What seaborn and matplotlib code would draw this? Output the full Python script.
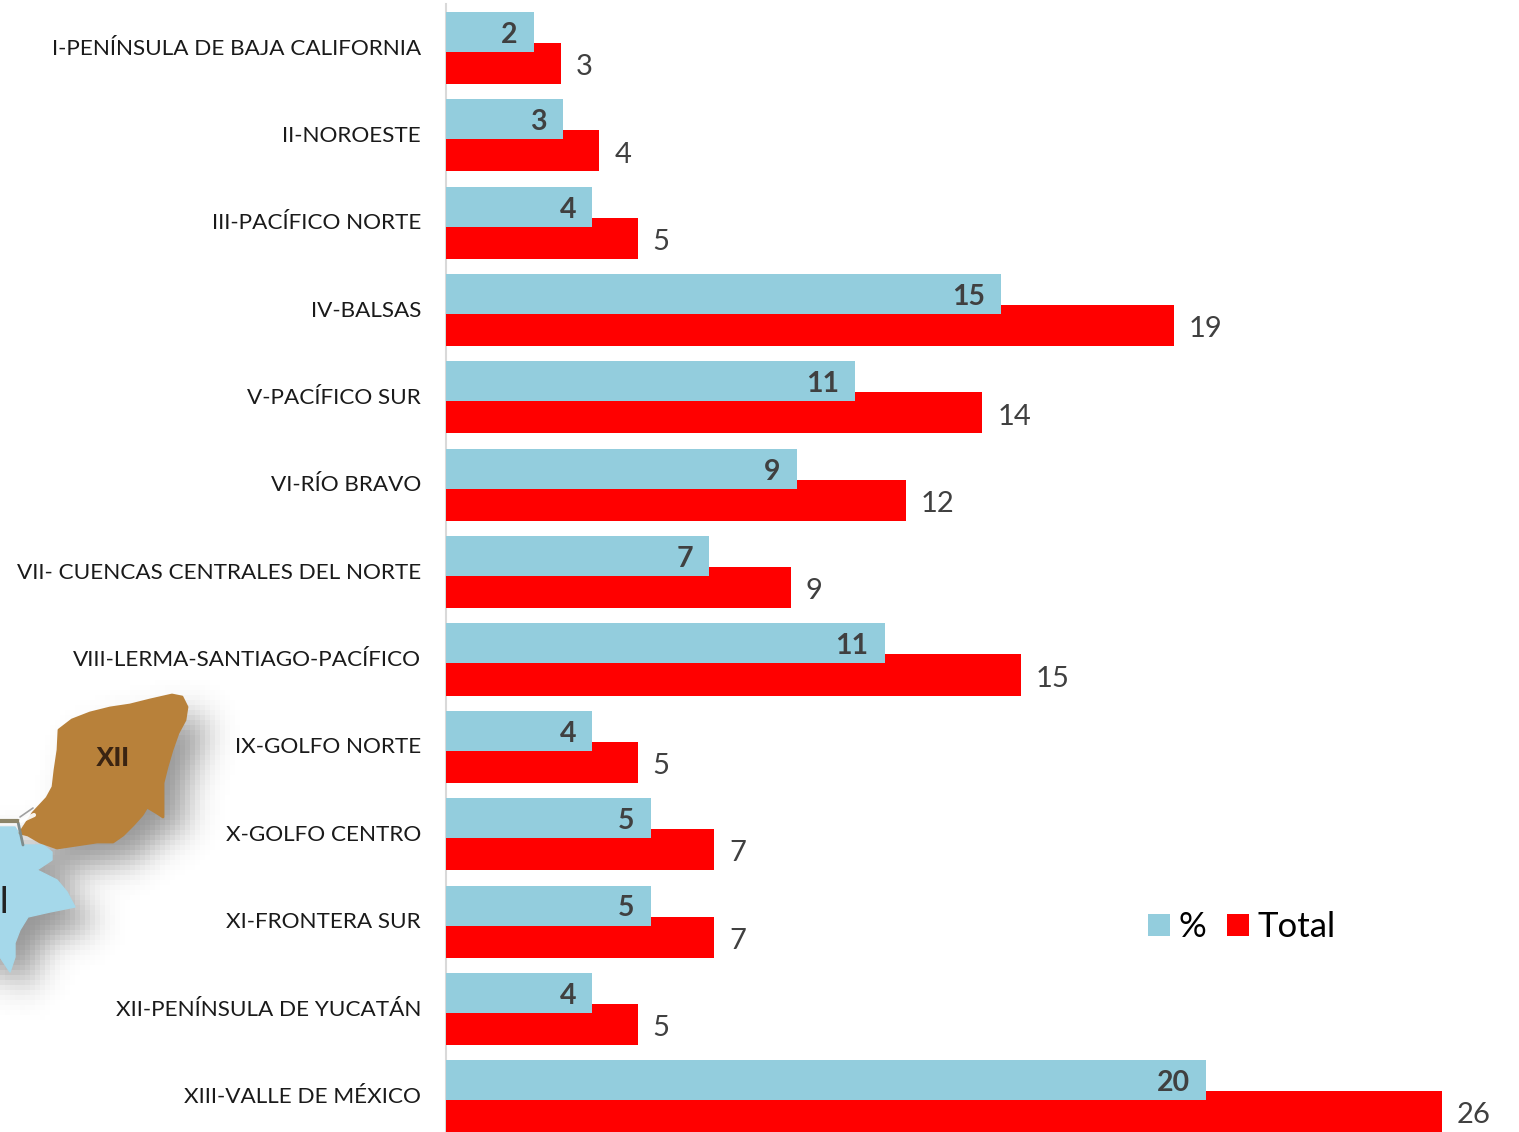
import numpy as np
import pandas as pd
import matplotlib
matplotlib.use("Agg")
import matplotlib.pyplot as plt
from matplotlib.path import Path
from matplotlib.patches import Polygon
import seaborn as sns

# -----------------------------------------
# Data
# -----------------------------------------
regions = ["I-PENÍNSULA DE BAJA CALIFORNIA", "II-NOROESTE", "III-PACÍFICO NORTE",
           "IV-BALSAS", "V-PACÍFICO SUR", "VI-RÍO BRAVO",
           "VII- CUENCAS CENTRALES DEL NORTE", "VIII-LERMA-SANTIAGO-PACÍFICO",
           "IX-GOLFO NORTE", "X-GOLFO CENTRO", "XI-FRONTERA SUR",
           "XII-PENÍNSULA DE YUCATÁN", "XIII-VALLE DE MÉXICO"]
total = [3, 4, 5, 19, 14, 12, 9, 15, 5, 7, 7, 5, 26]
pct = [2.29, 3.05, 3.82, 14.5, 10.69, 9.16, 6.87, 11.45, 3.82, 5.34, 5.34, 3.82, 19.85]
pct_labels = ["2", "3", "4", "15", "11", "9", "7", "11", "4", "5", "5", "4", "20"]

# map fragment outlines, in picture pixels
yucatan_x = [20, 33, 47, 53, 55, 58, 59, 72, 90, 110, 130, 150, 172, 182, 187, 185, 178, 172, 167,
             163, 163, 157, 147, 142, 133, 123, 113, 97, 77, 57, 40, 28]
yucatan_y = [833, 813, 798, 787, 770, 750, 730, 720, 713, 708, 705, 700, 695, 697, 707, 720, 733, 750, 767,
             783, 817, 813, 807, 815, 825, 835, 842, 842, 845, 848, 842, 835]
blue_x = [-40, 0, 15, 20, 23, 43, 52, 52, 37, 57, 67, 75, 50, 28, 20, 15, 15, 10, 0, -40]
blue_y = [825, 827, 827, 835, 845, 845, 852, 860, 870, 880, 892, 907, 912, 917, 930, 943, 957, 972, 957, 950]

TEXT = "#404040"
sns.set_theme(style="white")
plt.rcParams["font.family"] = ["Lato", "DejaVu Sans"]

W, H = 1519, 1132
fig = plt.figure(figsize=(W / 100, H / 100), dpi=100)

# -----------------------------------------
# Map fragment behind the chart
# -----------------------------------------
bg = fig.add_axes([0, 0, 1, 1], zorder=0)
gx, gy = np.meshgrid(np.arange(-120, 340, 5) + 2.5, np.arange(600, 1100, 5) + 2.5)
pts = np.column_stack([gx.ravel(), gy.ravel()])
mask = np.zeros(gx.shape)
for xs, ys in [(yucatan_x, yucatan_y), (blue_x, blue_y)]:
    poly = Path(np.column_stack([xs, ys]))
    mask += poly.contains_points(pts + [-20, -20]).reshape(gx.shape)
mask = np.clip(mask, 0, 1)
kernel = np.exp(-0.5 * (np.arange(-12, 13) / 3.2) ** 2)
kernel /= kernel.sum()
blur = np.apply_along_axis(lambda r: np.convolve(r, kernel, mode="same"), 0, mask)
blur = np.apply_along_axis(lambda r: np.convolve(r, kernel, mode="same"), 1, blur)
shadow = np.zeros(gx.shape + (4,))
shadow[..., :3] = 0.33
shadow[..., 3] = np.clip(blur, 0, 1) * 0.62
bg.imshow(shadow, extent=(-120, 340, 1100, 600), interpolation="nearest", aspect="auto")
bg.add_patch(Polygon(np.column_stack([blue_x, blue_y]), closed=True, fc="#A5D8EA", ec="#A5D8EA",
                     lw=1, joinstyle="round"))
bg.add_patch(Polygon(np.column_stack([yucatan_x, yucatan_y]), closed=True, fc="#B8813A", ec="#B8813A",
                     lw=2, joinstyle="round"))
bg.plot([18, 23], [822, 845], color="#7F8C8C", lw=2)
bg.plot([0, 18], [821, 821], color="#8C8468", lw=3)
bg.plot([21, 34], [821, 815], color="white", lw=3, alpha=0.9)
bg.plot([20, 33], [817, 808], color="#A0A0A0", lw=1.2)
bg.text(113, 759, "XII", color="#3A2412", fontsize=20, ha="center", va="center", fontweight="bold",
        family="Liberation Sans")
bg.text(4, 903, "I", color="#222222", fontsize=27, ha="center", va="center",
        family="Liberation Sans")
bg.set_xlim(0, W)
bg.set_ylim(H, 0)
bg.axis("off")

# -----------------------------------------
# Bars
# -----------------------------------------
ax = fig.add_axes([446 / W, 0, (W - 446) / W, (H - 4) / H], zorder=1)
ax.patch.set_alpha(0)
pos = np.arange(len(regions))
df = pd.DataFrame({"pos": pos, "total": total, "pct": pct})
df["y_total"] = df["pos"] + 0.178
df["y_pct"] = df["pos"] - 0.183

sns.barplot(data=df, x="total", y="y_total", orient="h", native_scale=True, color="#FF0000",
            saturation=1, width=0.47, label="Total", ax=ax, errorbar=None, linewidth=0)
sns.barplot(data=df, x="pct", y="y_pct", orient="h", native_scale=True, color="#93CDDD",
            saturation=1, width=0.458, label="%", ax=ax, errorbar=None, linewidth=0)

for t in ax.bar_label(ax.containers[0], labels=[str(v) for v in total], padding=11,
                      fontsize=21, color=TEXT):
    x, y = t.xyann
    t.xyann = (x, y - 2.7)
for t in ax.bar_label(ax.containers[1], labels=pct_labels, padding=-11.5, fontsize=20.5,
                      fontweight="bold", color=TEXT):
    t.set_ha("right")
    x, y = t.xyann
    t.xyann = (x, y - 2)

ax.set_xlim(0, (W - 446) / 38.3)
ax.set_ylim(12.41, -0.504)
ax.set_yticks(pos - 0.015)
ax.set_yticklabels(regions, fontsize=16.2, color="#1a1a1a")
ax.tick_params(axis="y", length=0, pad=18)
ax.set_xticks([])
ax.set_xlabel("")
ax.set_ylabel("")
for side in ["top", "right", "bottom"]:
    ax.spines[side].set_visible(False)
ax.spines["left"].set_color("#D9D9D9")
ax.spines["left"].set_linewidth(1.5)
ax.spines["left"].set_zorder(0.5)

handles, labels = ax.get_legend_handles_labels()
order = [labels.index("%"), labels.index("Total")]
ax.legend([handles[i] for i in order], [labels[i] for i in order], ncol=2, frameon=False,
          fontsize=25, loc="center left", bbox_to_anchor=(1117 / W, 1 - 927 / H),
          bbox_transform=fig.transFigure, handlelength=0.62, handleheight=0.62,
          handletextpad=0.25, columnspacing=0.6, labelcolor="black")

fig.savefig("out.png", dpi=100)
